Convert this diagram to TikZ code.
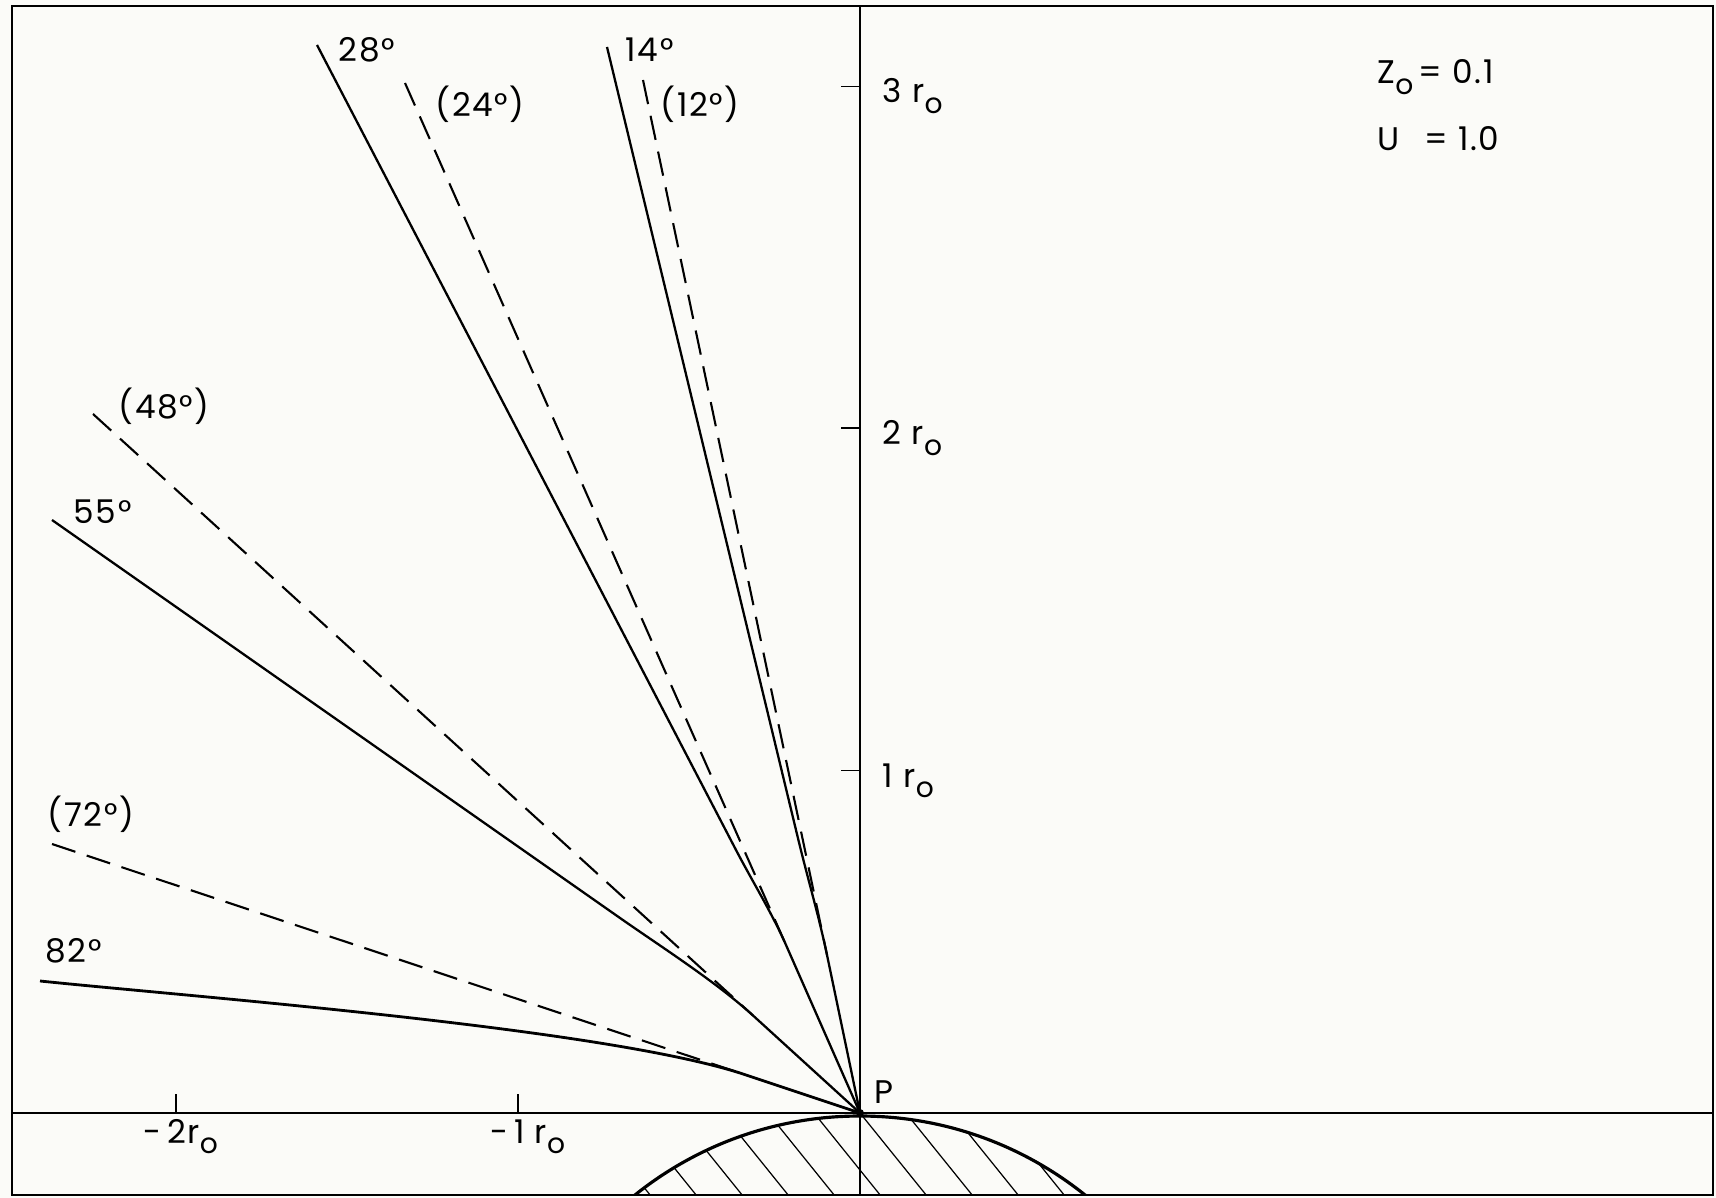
\documentclass[tikz,border=0pt]{standalone}
\usepackage{fontspec}
\setmainfont{Poppins}[LetterSpace=5]
\newcommand{\lowo}{\raisebox{-0.6ex}{\fontsize{8}{8}\selectfont o}}
\definecolor{paper}{RGB}{251,251,248}
\begin{document}
\begin{tikzpicture}[x=0.01cm,y=-0.01cm,
  lbl/.style={inner sep=0pt, anchor=base west, font=\fontsize{9.3}{11}\selectfont},
  axisline/.style={line width=0.45pt},
  frameline/.style={line width=0.55pt},
  traj/.style={line width=0.65pt},
  asym/.style={line width=0.6pt, dash pattern=on 7pt off 3.4pt},
  hatchline/.style={line width=0.35pt},
  earth/.style={line width=0.9pt}]
\useasboundingbox (0,0) rectangle (1716,1198);
\fill[paper] (0,0) rectangle (1716,1198);

% key points
\coordinate (P) at (860,1113);
\coordinate (C) at (860,1476);
% hatched body
\begin{scope}
  \clip (12,6) rectangle (1713,1195);
  \begin{scope}
    \clip (C) circle[radius=360];
    \foreach \k in {-10,...,10}
      \draw[hatchline] ({860+46*\k-120},{1113-148.8}) -- ({860+46*\k+400},{1113+496});
  \end{scope}
  \draw[earth] (C) circle[radius=360];
\end{scope}

% frame and axes
\draw[frameline] (12,6) rectangle (1713,1195);
\draw[axisline] (860,6) -- (860,1195);
\draw[axisline] (12,1113) -- (1713,1113);
\foreach \yy in {86.5,428,770.5}
  \draw[axisline] (841,\yy) -- (860,\yy);
\foreach \xx in {176,518}
  \draw[axisline] (\xx,1094) -- (\xx,1113);

% end points of the curves
\coordinate (F82) at (40,981);
\coordinate (D72) at (52,844);
\coordinate (E72) at (740,1073);
\coordinate (F55) at (52,520);
\coordinate (B55) at (620,918);
\coordinate (D48) at (93,414);
\coordinate (E48) at (753,1015.5);
\coordinate (F28) at (317,45);
\coordinate (B28) at (736,850);
\coordinate (D24) at (405,83);
\coordinate (E24) at (786,945);
\coordinate (F14) at (607,47);
\coordinate (B14) at (798.4,840);
\coordinate (D12) at (643,80);
\coordinate (E12) at (827,955);

% dashed straight lines
\draw[asym] (D72) -- (E72);
\draw[asym] (D48) -- (E48);
\draw[asym] (D24) -- (E24);
\draw[asym] (D12) -- (E12);

% solid trajectories
\draw[traj, line width=0.8pt] (F82) .. controls (189,996.5) and (597,1027.6) .. (E72) -- (P);
\draw[traj] (F55) -- (B55) .. controls (661,946.7) and (716,981.8) .. (E48) -- (P);
\draw[traj] (F28) -- (B28) .. controls (752.2,881) and (771.9,913) .. (E24) -- (P);
\draw[traj] (F14) -- (B14) .. controls (807.8,878.9) and (818.8,915.9) .. (E12) -- (P);
\fill (P) circle[radius=4];

% labels
\node[lbl] (t28) at (338,62) {28°};
\node[lbl] (t14) at (625,62) {14°};
\node[lbl] (t24) at (435,117) {(24°)};
\node[lbl] (t12) at (660,117) {(12°)};
\node[lbl] (t48) at (118,419) {(48°)};
\node[lbl] (t55) at (73,524) {55°};
\node[lbl] (t72) at (47,826) {(72°)};
\node[lbl] (t82) at (45,962) {82°};
\node[lbl] (xm2) at (143,1143) {-\,2r\lowo};
\node[lbl] (xm1) at (490,1143) {-\,1 r\lowo};
\node[lbl] (y3) at (882,103) {3 r\lowo};
\node[lbl] (y2) at (882,445) {2 r\lowo};
\node[lbl] (y1) at (882,787) {1 r\lowo};
\node[lbl] (z0) at (1377,84) {Z\lowo\kern1.5pt= 0.1};
\node[lbl] (u) at (1377,151) {U\hspace{0.75em}= 1.0};
\node[lbl] (p) at (874,1103) {P};
\end{tikzpicture}
\end{document}
